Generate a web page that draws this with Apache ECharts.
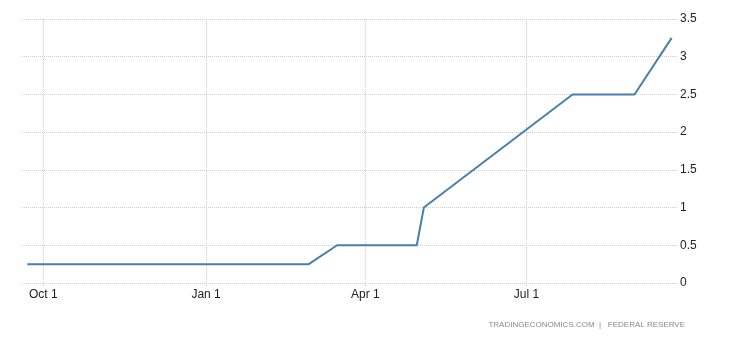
<!DOCTYPE html>
<html>
<head>
<meta charset="utf-8">
<script src="https://cdn.jsdelivr.net/npm/echarts@6/dist/echarts.min.js"></script>
<style>html,body{margin:0;padding:0;background:#fff;}#c{width:730px;height:340px;}</style>
</head>
<body>
<div id="c"></div>
<script>
const dates = ['2021-09-22','2021-11-03','2021-12-15','2022-01-26','2022-02-28','2022-03-16','2022-04-30','2022-05-04','2022-06-15','2022-07-27','2022-08-31','2022-09-21'];
const rates = [0.25,0.25,0.25,0.25,0.25,0.5,0.5,1.0,1.75,2.5,2.5,3.25];
const xTicks = ['2021-10-01','2022-01-01','2022-04-01','2022-07-01'];
const xTickLabels = ['Oct 1','Jan 1','Apr 1','Jul 1'];
const yTicks = [0,0.5,1,1.5,2,2.5,3,3.5];

const ts = d => new Date(d + 'T00:00:00Z').getTime();
const tickTs = xTicks.map(ts);
const chart = echarts.init(document.getElementById('c'), null, {renderer:'canvas'});
chart.setOption({
  animation:false,
  grid:{left:22,right:53,top:19,bottom:57,containLabel:false},
  xAxis:{
    type:'value',
    min: ts('2021-09-19'),
    max: ts('2022-09-24'),
    axisLine:{show:false},
    axisTick:{show:true,customValues:tickTs,length:3,lineStyle:{color:'#ccc',type:'dotted'}},
    axisLabel:{customValues:tickTs,color:'#222',fontFamily:'Liberation Sans, Arial',fontSize:12,margin:6,
      formatter:function(v){const i=tickTs.indexOf(v);return i>=0?xTickLabels[i]:'';}},
    splitLine:{show:true,lineStyle:{color:'#cfcfcf',type:'dotted',width:1}}
  },
  yAxis:{
    type:'value',position:'right',min:0,max:3.5,interval:0.5,
    axisLine:{show:false},axisTick:{show:false},
    axisLabel:{color:'#222',fontFamily:'Liberation Sans, Arial',fontSize:12,margin:3,
      formatter:function(v){return String(yTicks[Math.round(v/0.5)]);}},
    splitLine:{lineStyle:{color:'#cfcfcf',type:'dotted',width:1}}
  },
  series:[{
    type:'line',
    data: dates.map((d,i)=>[ts(d),rates[i]]),
    showSymbol:false,
    lineStyle:{color:'#4a7fac',width:2},
    itemStyle:{color:'#4a7fac'}
  }],
  graphic:[{
    type:'text',right:45,top:321,
    style:{text:'TRADINGECONOMICS.COM  |   FEDERAL RESERVE',fill:'#8a8a8a',font:'8px Liberation Sans, Arial'}
  }]
});
</script>
</body>
</html>
